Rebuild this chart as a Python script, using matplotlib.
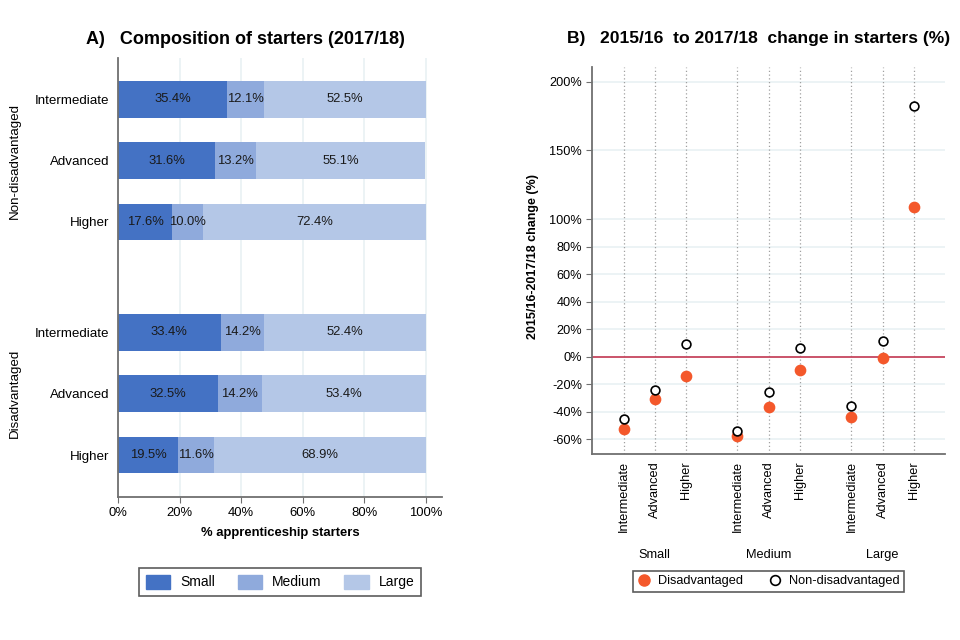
import numpy as np
import matplotlib
matplotlib.use("Agg")
import matplotlib.pyplot as plt
import matplotlib.transforms as mtrans
from matplotlib.patches import Patch
from matplotlib.lines import Line2D

plt.rcParams['font.family'] = ['Liberation Sans', 'DejaVu Sans']

# ---- panel A data: composition of starters 2017/18 (%)
levels = ["Intermediate", "Advanced", "Higher"]
groups_a = ["Non-disadvantaged", "Disadvantaged"]
small = [35.4, 31.6, 17.6, 33.4, 32.5, 19.5]
medium = [12.1, 13.2, 10.0, 14.2, 14.2, 11.6]
large = [52.5, 55.1, 72.4, 52.4, 53.4, 68.9]
sizes = ["Small", "Medium", "Large"]

# ---- panel B data: change 2015/16 to 2017/18 (%), order Small, Medium, Large x levels
disadv = [-52.5, -30.7, -13.8, -57.4, -36.3, -9.4, -43.8, -0.9, 108.6]
nondisadv = [-45.3, -24.2, 9.5, -53.8, -25.9, 6.3, -35.8, 11.2, 182.0]
yticks_b = [-60, -40, -20, 0, 20, 40, 60, 80, 100, 150, 200]

c_small, c_med, c_large = '#4472c4', '#8faadc', '#b4c7e7'
grid_c = '#e9f1f3'
spine_c = '#707070'
fs = 9.4

fig = plt.figure(figsize=(9.6, 6.4), dpi=100)

# ================= panel A
ax = fig.add_axes([0.1229, 0.2239, 0.3375, 0.686])
ypos = np.array([0, 1, 2, 3.8, 4.8, 5.8])
h = 0.6
s = np.array(small); m = np.array(medium); l = np.array(large)
ax.barh(ypos, s, height=h, color=c_small, zorder=2)
ax.barh(ypos, m, left=s, height=h, color=c_med, zorder=2)
ax.barh(ypos, l, left=s + m, height=h, color=c_large, zorder=2)
for y, a, b, c in zip(ypos, s, m, l):
    for left, w in [(0, a), (a, b), (a + b, c)]:
        ax.text(left + w / 2, y, f"{w:.1f}%", ha='center', va='center',
                fontsize=fs, color='#1a1a1a', zorder=3)
ax.set_ylim(6.48, -0.68)
ax.set_xlim(0, 105.3)
ax.set_yticks(ypos)
ax.set_yticklabels(levels * 2, fontsize=9.6)
ax.tick_params(axis='y', length=0, pad=6)
ax.set_xticks([0, 20, 40, 60, 80, 100])
ax.set_xticklabels([f"{v}%" for v in [0, 20, 40, 60, 80, 100]], fontsize=fs)
ax.tick_params(axis='x', length=4, color=spine_c)
ax.xaxis.grid(True, color=grid_c, lw=1.2, zorder=0)
ax.set_axisbelow(True)
for sp in ['top', 'right']:
    ax.spines[sp].set_visible(False)
ax.spines['left'].set_color(spine_c)
ax.spines['bottom'].set_color(spine_c)
ax.spines['left'].set_linewidth(1.3)
ax.spines['bottom'].set_linewidth(1.3)
ax.set_xlabel("% apprenticeship starters", fontsize=fs, fontweight='bold', labelpad=6)
tr = mtrans.blended_transform_factory(ax.transAxes, ax.transData)
ax.text(-0.318, 1, groups_a[0], rotation=90, ha='center', va='center', fontsize=9.6, transform=tr)
ax.text(-0.318, 4.8, groups_a[1], rotation=90, ha='center', va='center', fontsize=9.6, transform=tr)

fig.text(0.256, 0.9375, "A)   Composition of starters (2017/18)", fontsize=13,
         fontweight='bold', ha='center', va='center')

handles_a = [Patch(color=c) for c in [c_small, c_med, c_large]]
leg = fig.legend(handles_a, sizes, loc='center', bbox_to_anchor=(0.2917, 0.0906), ncol=3,
                 fontsize=10, frameon=True, fancybox=False, edgecolor='#333333',
                 handlelength=1.75, handleheight=1.15, handletextpad=0.72,
                 columnspacing=1.65, borderpad=0.45)
leg.get_frame().set_linewidth(1.2)

# ================= panel B
ax2 = fig.add_axes([0.617, 0.2906, 0.3674, 0.6052])
gap = 1.65
xpos = np.array([1, 2, 3, 3 + gap, 4 + gap, 5 + gap, 5 + 2 * gap, 6 + 2 * gap, 7 + 2 * gap])
ax2.set_xlim(0, xpos[-1] + 1)
ax2.set_ylim(-70.7, 210.8)
for x in xpos:
    ax2.axvline(x, color='#a0a0a0', lw=0.9, ls=(0, (1, 2)), zorder=1)
for yt in yticks_b:
    ax2.axhline(yt, color=grid_c, lw=1.2, zorder=0)
ax2.axhline(0, color='#c8475f', lw=1.3, zorder=2)
ax2.scatter(xpos, disadv, s=55, color='#f4582b', zorder=4, label='Disadvantaged')
ax2.scatter(xpos, nondisadv, s=40, facecolor='white', edgecolor='black', lw=1.2, zorder=5,
            label='Non-disadvantaged')
ax2.set_yticks(yticks_b)
ax2.set_yticklabels([f"{v}%" for v in yticks_b], fontsize=9.2)
ax2.tick_params(axis='y', length=4, color=spine_c)
ax2.set_xticks(xpos)
ax2.set_xticklabels(levels * 3, rotation=90, fontsize=9.2)
ax2.tick_params(axis='x', length=0, pad=5)
for sp in ['top', 'right']:
    ax2.spines[sp].set_visible(False)
ax2.spines['left'].set_color(spine_c)
ax2.spines['bottom'].set_color(spine_c)
ax2.spines['left'].set_linewidth(1.3)
ax2.spines['bottom'].set_linewidth(1.3)
ax2.set_ylabel("2015/16-2017/18 change (%)", fontsize=9, fontweight='bold', labelpad=4)
ax2.yaxis.set_label_coords(-0.15, 0.51)
tr2 = mtrans.blended_transform_factory(ax2.transData, ax2.transAxes)
for i, g in enumerate(sizes):
    ax2.text(xpos[3 * i + 1], -0.261, g, ha='center', va='center', fontsize=9.2, transform=tr2)

fig.text(0.79, 0.940, "B)   2015/16  to 2017/18  change in starters (%)", fontsize=12.6,
         fontweight='bold', ha='center', va='center')

handles_b = [Line2D([], [], ls='', marker='o', ms=8, color='#f4582b'),
             Line2D([], [], ls='', marker='o', ms=7, mfc='white', mec='black', mew=1.2)]
leg2 = fig.legend(handles_b, ['Disadvantaged', 'Non-disadvantaged'], loc='center',
                  bbox_to_anchor=(0.8009, 0.0916), ncol=2, fontsize=9.2, frameon=True,
                  fancybox=False, edgecolor='#333333', handlelength=1.0,
                  columnspacing=2.0, borderpad=0.35, handletextpad=0.6)
leg2.get_frame().set_linewidth(1.2)

fig.savefig("out.png", dpi=100)
